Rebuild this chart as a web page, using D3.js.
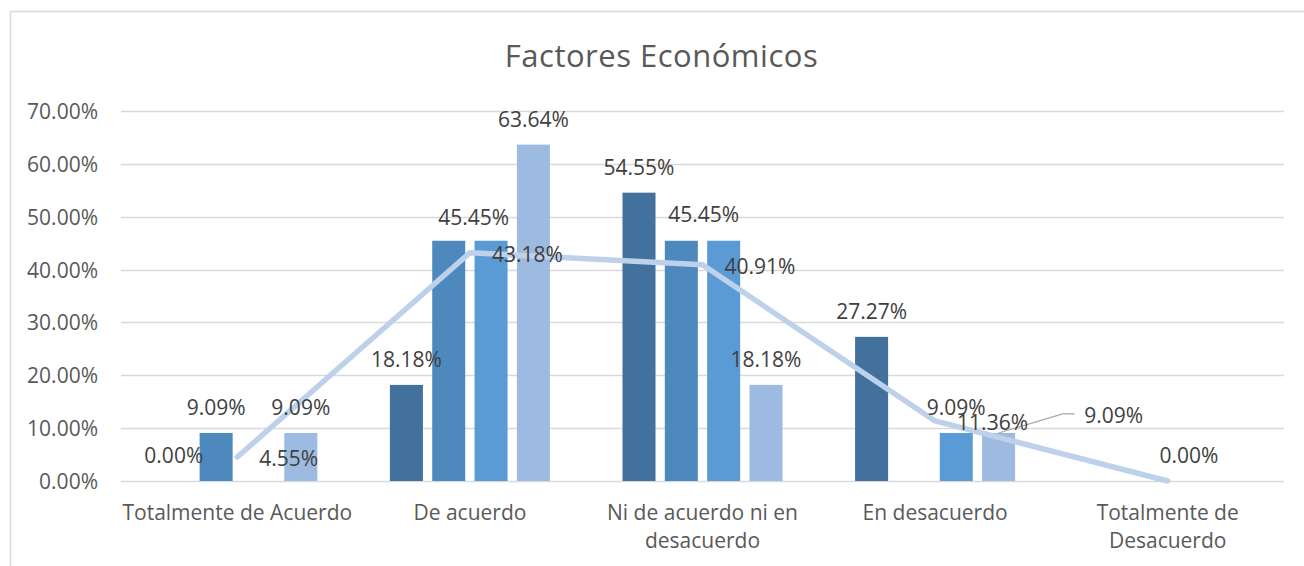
<!DOCTYPE html>
<html>
<head>
<meta charset="utf-8">
<script src="https://cdn.jsdelivr.net/npm/d3@7"></script>
<style>
  html, body { margin: 0; padding: 0; background: #fff; }
  svg { display: block; }
  text { font-family: "Open Sans", "Noto Sans", sans-serif; fill: #595959; }
</style>
</head>
<body>
<svg id="chart" width="1304" height="566"></svg>
<script>
// ---- data ----
const title = "Factores Económicos";
const categories = ["Totalmente de Acuerdo", "De acuerdo", "Ni de acuerdo ni en desacuerdo", "En desacuerdo", "Totalmente de Desacuerdo"];
const categoryLines = [["Totalmente de Acuerdo"], ["De acuerdo"], ["Ni de acuerdo ni en", "desacuerdo"], ["En desacuerdo"], ["Totalmente de", "Desacuerdo"]];
const seriesNames = ["S1", "S2", "S3", "S4"];
const s1 = [0.0000, 0.1818, 0.5455, 0.2727, null];
const s2 = [0.0909, 0.4545, 0.4545, null, null];
const s3 = [null, 0.4545, 0.4545, 0.0909, 0.0000];
const s4 = [0.0909, 0.6364, 0.1818, 0.0909, null];
const average = [0.0455, 0.4318, 0.4091, 0.1136, 0.0000];
const yTicks = [0, 0.1, 0.2, 0.3, 0.4, 0.5, 0.6, 0.7];
// which data labels are shown
const showS1 = [true, true, true, true, false];
const showS2 = [true, true, false, false, false];
const showS3 = [false, false, true, true, true];
const showS4 = [true, true, true, true, false];
const showAvg = [true, true, true, true, false];

// ---- styles / layout ----
const colors = ["#41719C", "#4E89BE", "#5B9BD5", "#9DBBE1"];
const lineColor = "#BDD1EB";
const gridColor = "#D9D9D9";
const labelColor = "#404040";
const plot = { left: 121, right: 1284, top: 111, bottom: 481 };
// manual label nudges  key "series-category" -> [dx, dy]
const nudges = { "1-1": [25, 2.5], "2-2": [-20, -1], "3-3": [115, 8] };
const leaderFor = "3-3";

const svg = d3.select("#chart");
const seriesVals = [s1, s2, s3, s4];
const seriesShow = [showS1, showS2, showS3, showS4];

// chart frame
svg.append("rect").attr("x", 10.5).attr("y", 11.5).attr("width", 1400).attr("height", 600)
  .attr("fill", "#fff").attr("stroke", gridColor).attr("stroke-width", 1.5);

// title
svg.append("text").attr("x", 661.5).attr("y", 67).attr("text-anchor", "middle")
  .style("font-size", "31px").style("letter-spacing", "0.5px").text(title);

const y = d3.scaleLinear().domain([0, 0.7]).range([plot.bottom, plot.top]);
const x0 = d3.scaleBand().domain(categories).range([plot.left, plot.right]);
const groupW = 169.33;
const groupPad = (x0.bandwidth() - groupW) / 2;
const x1 = d3.scaleBand().domain(seriesNames).range([0, groupW]).paddingInner(0.22).paddingOuter(0.11);
const fmt = d3.format(".2%");

// gridlines
svg.append("g").selectAll("line").data(yTicks).join("line")
  .attr("x1", plot.left).attr("x2", plot.right)
  .attr("y1", d => Math.round(y(d)) + 0.5).attr("y2", d => Math.round(y(d)) + 0.5)
  .attr("stroke", gridColor).attr("stroke-width", 1.6);

// y axis labels
const yAxis = d3.axisLeft(y).tickValues(yTicks).tickFormat(fmt).tickSize(0).tickPadding(0);
const yg = svg.append("g").attr("transform", "translate(98,0)").call(yAxis);
yg.select(".domain").remove();
yg.selectAll("text").attr("dy", null).attr("y", 7.5).style("font-size", "21px").attr("fill", "#595959")
  .style("font-family", '"Open Sans", sans-serif');

// category labels
const xg = svg.append("g");
categories.forEach((c, i) => {
  const t = xg.append("text").attr("x", x0(c) + x0.bandwidth() / 2).attr("y", 520)
    .attr("text-anchor", "middle").style("font-size", "21px");
  categoryLines[i].forEach((ln, j) => {
    t.append("tspan").attr("x", x0(c) + x0.bandwidth() / 2).attr("dy", j === 0 ? 0 : 28).text(ln);
  });
});

// bars
const barData = [];
seriesVals.forEach((arr, si) => {
  arr.forEach((v, ci) => {
    if (v === null) return;
    barData.push({ si, ci, v, show: seriesShow[si][ci] });
  });
});
const bw = x1.bandwidth();
svg.append("g").selectAll("rect").data(barData.filter(d => d.v > 0)).join("rect")
  .attr("x", d => x0(categories[d.ci]) + groupPad + x1(seriesNames[d.si]))
  .attr("y", d => y(d.v))
  .attr("width", bw)
  .attr("height", d => y(0) - y(d.v))
  .attr("fill", d => colors[d.si]);

// average line
const line = d3.line()
  .x((d, i) => x0(categories[i]) + x0.bandwidth() / 2)
  .y(d => y(d));
svg.append("path").datum(average).attr("d", line)
  .attr("fill", "none").attr("stroke", lineColor).attr("stroke-width", 5.5)
  .attr("stroke-linecap", "round").attr("stroke-linejoin", "round");

// bar labels
const lg = svg.append("g");
barData.filter(d => d.show).forEach(d => {
  const key = d.si + "-" + d.ci;
  const n = nudges[key] || [0, 0];
  const cx = x0(categories[d.ci]) + groupPad + x1(seriesNames[d.si]) + bw / 2;
  const top = y(d.v);
  const lx = cx + n[0];
  const ly = top - 18 + n[1];
  if (key === leaderFor) {
    const left = lx - 31;
    lg.append("polyline")
      .attr("points", [[cx, top], [left - 20, ly - 9], [left - 8, ly - 9]].map(p => p.join(",")).join(" "))
      .attr("fill", "none").attr("stroke", "#A6A6A6").attr("stroke-width", 1.2);
  }
  lg.append("text").attr("x", lx).attr("y", ly).attr("text-anchor", "middle")
    .style("font-size", "21px").style("fill", labelColor).text(fmt(d.v));
});

// average labels (right of points)
average.forEach((v, i) => {
  if (!showAvg[i]) return;
  lg.append("text").attr("x", x0(categories[i]) + x0.bandwidth() / 2 + 22).attr("y", y(v) + 9.5)
    .style("font-size", "21px").style("fill", labelColor).text(fmt(v));
});
</script>
</body>
</html>
